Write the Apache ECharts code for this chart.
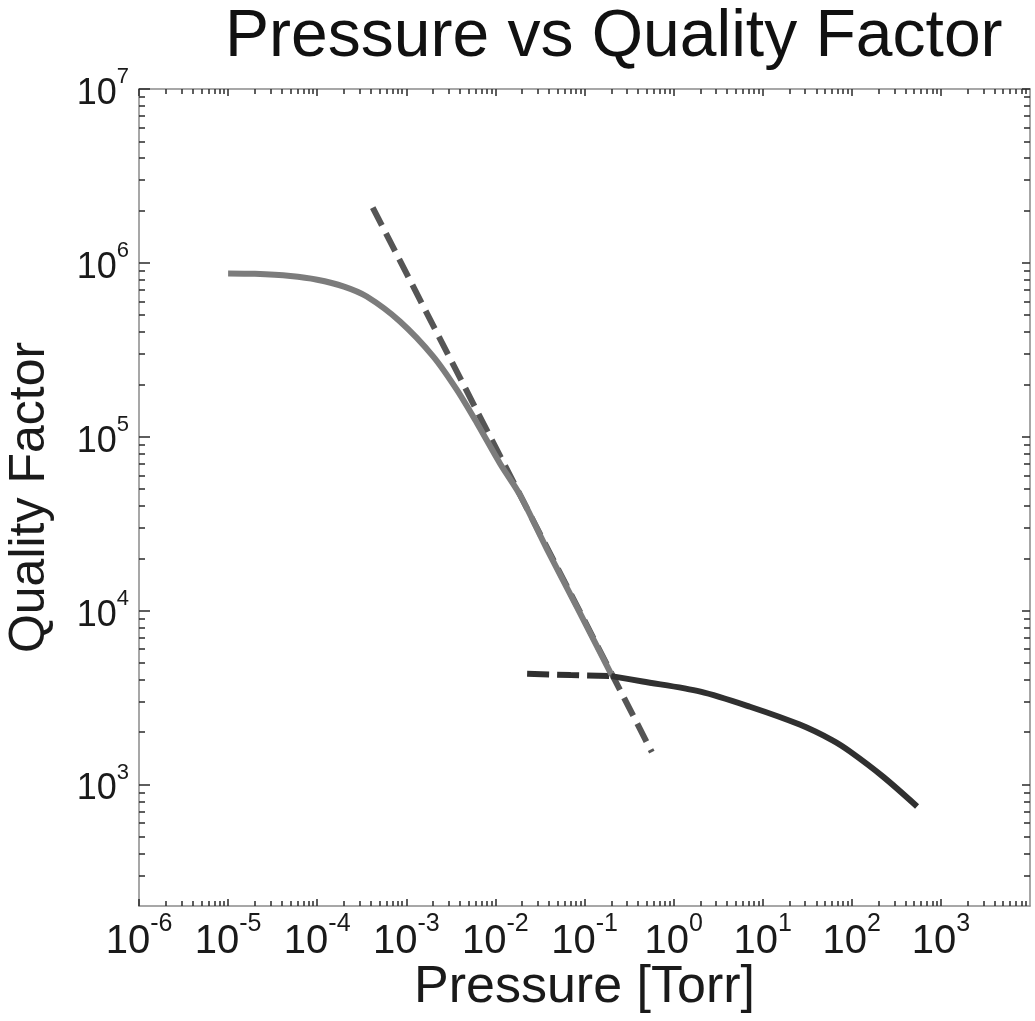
<!DOCTYPE html>
<html><head><meta charset="utf-8">
<script src="https://cdn.jsdelivr.net/npm/echarts@6/dist/echarts.min.js"></script>
<style>html,body{margin:0;padding:0;background:#fff}#c{width:1035px;height:1021px}</style>
</head><body><div id="c"></div>
<script>
// ---- data ----
const titleText = 'Pressure vs Quality Factor';
const xName = 'Pressure [Torr]';
const yName = 'Quality Factor';
const xTickValues = [1e-6, 1e-5, 1e-4, 1e-3, 1e-2, 1e-1, 1e0, 1e1, 1e2, 1e3];
const yTickValues = [1e3, 1e4, 1e5, 1e6, 1e7];

// gray solid curve (molecular regime)
const grayCurve = [
  [1e-5, 8.7e5], [2e-5, 8.65e5], [5e-5, 8.4e5], [1e-4, 8.0e5], [2e-4, 7.3e5],
  [3.6e-4, 6.4e5], [8.5e-4, 4.6e5], [2e-3, 2.9e5], [3.7e-3, 1.86e5],
  [6.2e-3, 1.2e5], [1.13e-2, 7.0e4], [1.9e-2, 4.6e4], [3.8e-2, 2.25e4],
  [8.2e-2, 1.05e4], [0.2, 4300]
];
// gray dashed asymptote (Q ~ 1/P)
const grayAsymptote = [[4.2e-4, 2.08e6], [0.57, 1535]];
// black solid curve (viscous regime)
const blackCurve = [
  [0.2, 4200], [0.45, 3910], [2, 3420], [7.2, 2800], [26, 2210],
  [60, 1800], [95, 1550], [224, 1110], [540, 748]
];
// black dashed extension (flat part)
const blackDashed = [[0.0227, 4330], [0.07, 4260], [0.2, 4200]];

// ---- helpers for axis decoration ----
function minorTicks(loExp, hiExp, lo, hi) {
  const out = [];
  for (let e = loExp; e < hiExp; e++) {
    for (let k = 2; k <= 9; k++) {
      const v = k * Math.pow(10, e);
      if (v > lo && v < hi) out.push(v);
    }
  }
  return out;
}
const X_MIN = 1e-6, X_MAX = 1e4, Y_MIN = 200, Y_MAX = 1e7;
const xMinor = minorTicks(-6, 4, X_MIN, X_MAX);
const yMinor = minorTicks(2, 7, Y_MIN, Y_MAX);

const FONT = 'Liberation Sans, Arial, Helvetica, sans-serif';
function supFmt(v) {
  const e = Math.round(Math.log10(v));
  return '{b|10}{s|' + e + '}';
}
const axisLineStyle = { color: '#8a8a8a', width: 1.5 };
const tickStyle = { color: '#2a2a2a', width: 1.5 };

function xAx(pos, major, labels) {
  return {
    type: 'log', logBase: 10, min: X_MIN, max: X_MAX, position: pos,
    axisLine: { show: major, onZero: false, lineStyle: axisLineStyle },
    axisTick: { show: true, inside: true, length: major ? 7 : 5,
      customValues: major ? xTickValues : xMinor, lineStyle: tickStyle },
    axisLabel: labels ? {
      show: true, customValues: xTickValues, formatter: supFmt, margin: 6,
      rich: {
        b: { fontSize: 40, fontFamily: FONT, color: '#1a1a1a', lineHeight: 50, verticalAlign: 'bottom' },
        s: { fontSize: 25, fontFamily: FONT, color: '#1a1a1a', lineHeight: 26, verticalAlign: 'top' }
      }
    } : { show: false },
    splitLine: { show: false }, minorTick: { show: false },
    name: labels ? xName : '', nameLocation: 'middle', nameGap: 56, nameMoveOverlap: false,
    nameTextStyle: { fontSize: 52, fontFamily: FONT, color: '#1a1a1a' }
  };
}
function yAx(pos, major, labels) {
  return {
    type: 'log', logBase: 10, min: Y_MIN, max: Y_MAX, position: pos,
    axisLine: { show: major, onZero: false, lineStyle: axisLineStyle },
    axisTick: { show: true, inside: true, length: major ? (pos === 'left' ? 11 : 8) : 6,
      customValues: major ? yTickValues : yMinor, lineStyle: tickStyle },
    axisLabel: labels ? {
      show: true, customValues: yTickValues, formatter: supFmt, margin: 10,
      rich: {
        b: { fontSize: 36, fontFamily: FONT, color: '#1a1a1a', lineHeight: 46, verticalAlign: 'bottom' },
        s: { fontSize: 22, fontFamily: FONT, color: '#1a1a1a', lineHeight: 22, verticalAlign: 'top' }
      }
    } : { show: false },
    splitLine: { show: false }, minorTick: { show: false },
    name: labels ? yName : '', nameLocation: 'middle', nameGap: 84, nameMoveOverlap: false,
    nameTextStyle: { fontSize: 50, fontFamily: FONT, color: '#1a1a1a' }
  };
}

const chart = echarts.init(document.getElementById('c'), null, { renderer: 'canvas' });
chart.setOption({
  backgroundColor: '#ffffff',
  animation: false,
  title: {
    text: titleText, left: 220, top: 0,
    textStyle: { fontSize: 66, fontWeight: 'normal', fontFamily: FONT, color: '#111' }
  },
  grid: { left: 139, right: 5, top: 89, bottom: 115, containLabel: false, outerBoundsMode: 'none' },
  xAxis: [
    xAx('bottom', true, true),
    xAx('bottom', false, false),
    xAx('top', true, false),
    xAx('top', false, false)
  ],
  yAxis: [
    yAx('left', true, true),
    yAx('left', false, false),
    yAx('right', true, false),
    yAx('right', false, false)
  ],
  series: [
    {
      type: 'line', name: 'asymptote', data: grayAsymptote, xAxisIndex: 0, yAxisIndex: 0,
      showSymbol: false, z: 2,
      lineStyle: { color: '#555555', width: 6, type: [20, 9], cap: 'butt' }
    },
    {
      type: 'line', name: 'molecular', data: grayCurve, xAxisIndex: 0, yAxisIndex: 0,
      showSymbol: false, smooth: 0.3, z: 3,
      lineStyle: { color: '#7c7c7c', width: 6 }
    },
    {
      type: 'line', name: 'viscous ext', data: blackDashed, xAxisIndex: 0, yAxisIndex: 0,
      showSymbol: false, z: 2,
      lineStyle: { color: '#303030', width: 6, type: [22, 8], cap: 'butt' }
    },
    {
      type: 'line', name: 'viscous', data: blackCurve, xAxisIndex: 0, yAxisIndex: 0,
      showSymbol: false, smooth: 0.3, z: 3,
      lineStyle: { color: '#303030', width: 6 }
    }
  ]
});
</script>
</body></html>
